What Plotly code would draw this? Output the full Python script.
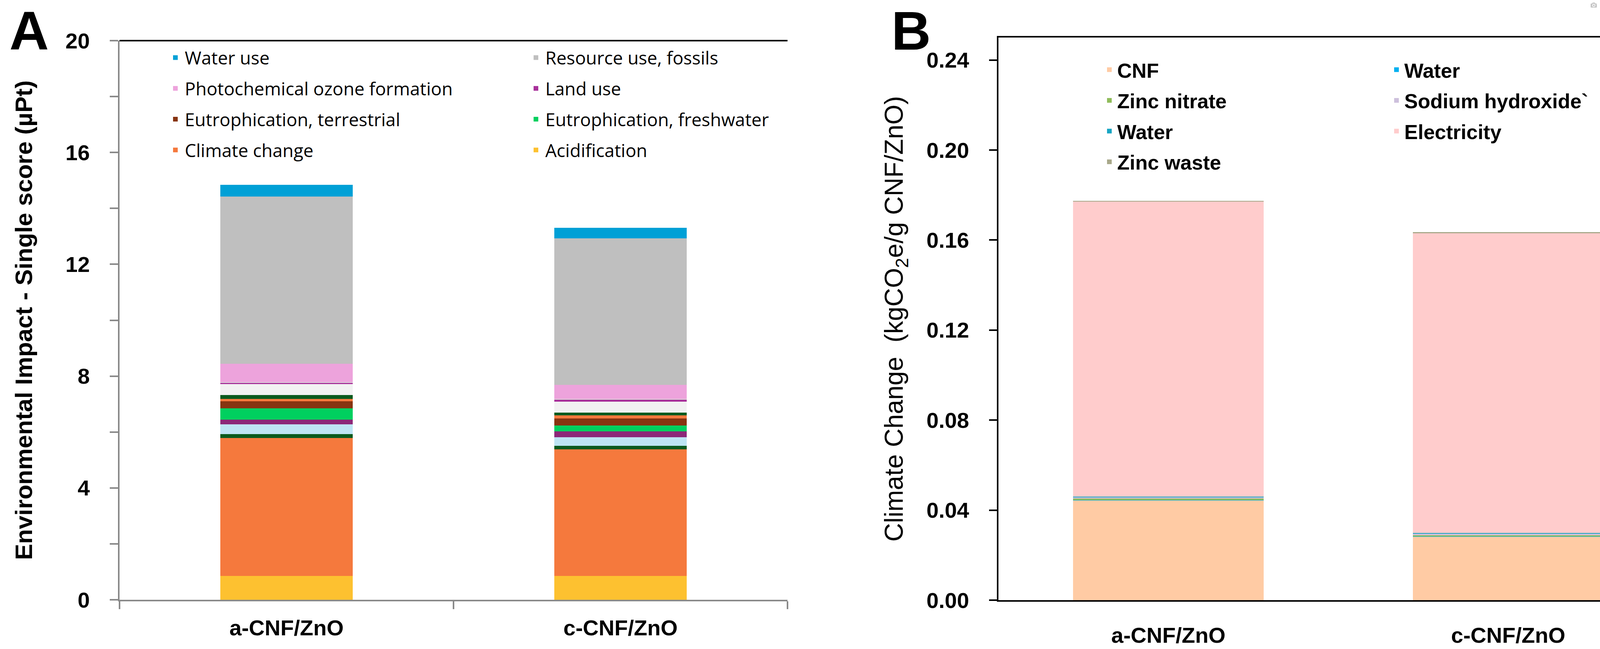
import plotly.graph_objects as go

W, H = 4334, 1661

# ---------------- Panel A data ----------------
samples = ["a-CNF/ZnO", "c-CNF/ZnO"]
a_names = ["Acidification", "Climate change", "Ecotoxicity, freshwater", "Particulate matter",
           "Eutrophication, marine", "Eutrophication, freshwater", "Eutrophication, terrestrial",
           "Human toxicity, cancer", "Human toxicity, non-cancer", "Ionising radiation",
           "Land use", "Ozone depletion", "Photochemical ozone formation",
           "Resource use, fossils", "Water use"]
a_vals_a = [0.85, 4.93, 0.15, 0.35, 0.17, 0.40, 0.25, 0.08, 0.14, 0.39, 0.05, 0.03, 0.65, 5.98, 0.42]
a_vals_c = [0.85, 4.53, 0.13, 0.31, 0.20, 0.22, 0.24, 0.11, 0.11, 0.39, 0.06, 0.03, 0.51, 5.24, 0.38]
a_colors = ["#FDC130", "#F5793D", "#0A5A1E", "#BEE5F4", "#8C2878", "#00D05F", "#873411",
            "#F5793D", "#0A5A1E", "#F2F2F2", "#A8309A", "#D9D9D9", "#EDA3DC", "#BFBFBF", "#00A0D6"]
a_legend_col1 = ["Water use", "Photochemical ozone formation", "Eutrophication, terrestrial", "Climate change"]
a_legend_col2 = ["Resource use, fossils", "Land use", "Eutrophication, freshwater", "Acidification"]

# ---------------- Panel B data ----------------
b_names = ["CNF", "Water", "Zinc nitrate", "Sodium hydroxide`", "Water", "Electricity", "Zinc waste"]
b_vals_a = [0.0443, 0.0002, 0.0007, 0.0006, 0.0002, 0.1310, 0.0004]
b_vals_c = [0.0282, 0.0001, 0.0006, 0.0007, 0.0002, 0.1333, 0.0004]
b_colors = ["#FFCBA4", "#00B0F0", "#8FBC5A", "#CDC0DC", "#17A5C3", "#FFCCCC", "#A8A88A"]
b_legend = ["legend3", "legend4", "legend3", "legend4", "legend3", "legend4", "legend3"]
b_rank = [1, 1, 2, 2, 3, 3, 4]

fig = go.Figure()

rank_a = {}
for i, n in enumerate(a_legend_col1):
    rank_a[n] = ("legend", i + 1)
for i, n in enumerate(a_legend_col2):
    rank_a[n] = ("legend2", i + 1)

for i, n in enumerate(a_names):
    show = n in rank_a
    kw = {}
    if show:
        kw = dict(legend=rank_a[n][0], legendrank=rank_a[n][1])
    fig.add_trace(go.Bar(
        x=samples, y=[a_vals_a[i], a_vals_c[i]], name=n,
        marker=dict(color=a_colors[i], line=dict(width=0)),
        width=0.397, xaxis="x", yaxis="y", showlegend=show,
        legendgroup="A%d" % i, **kw))

for i, n in enumerate(b_names):
    fig.add_trace(go.Bar(
        x=samples, y=[b_vals_a[i], b_vals_c[i]], name=n,
        marker=dict(color=b_colors[i], line=dict(width=0)),
        width=0.562, xaxis="x2", yaxis="y2", showlegend=True,
        legend=b_legend[i], legendrank=b_rank[i], legendgroup="B%d" % i))

FA = "Liberation Sans, Arial, sans-serif"
tickfont = dict(family=FA, size=56, color="black", weight="bold")

legA_font = dict(family="Open Sans, sans-serif", size=46, color="black")
legB_font = dict(family=FA, size=52, color="black", weight="bold")

def leg(x, y, font, gap, iw):
    return dict(x=x, y=y, xanchor="left", yanchor="top", orientation="v",
                font=font, bgcolor="rgba(0,0,0,0)", borderwidth=0,
                traceorder="grouped", tracegroupgap=gap, itemwidth=iw)

fig.update_layout(
    width=W, height=H, margin=dict(l=0, r=0, t=0, b=0, autoexpand=False),
    paper_bgcolor="white", plot_bgcolor="white", barmode="stack",
    legend=leg(425 / W, 1 - 111 / H, legA_font, 16, 38),
    legend2=leg(1348 / W, 1 - 111 / H, legA_font, 16, 38),
    legend3=leg(2820 / W, 1 - 138 / H, legB_font, 8, 30),
    legend4=leg(3555 / W, 1 - 138 / H, legB_font, 8, 30),
    xaxis=dict(domain=[306 / W, 2016 / W], anchor="y", range=[-0.5, 1.5],
               showline=True, linecolor="#898989",
               linewidth=4, ticks="outside", tickson="boundaries", ticklen=20, tickwidth=4,
               tickcolor="#898989", tickfont=tickfont, showgrid=False, zeroline=False,
               ticklabelstandoff=20),
    yaxis=dict(domain=[126 / H, 1557 / H], anchor="x", range=[0, 20], dtick=4, tick0=0,
               showline=True, linecolor="#898989", linewidth=4, ticks="outside", ticklen=21,
               tickwidth=4, tickcolor="#898989", tickfont=tickfont, showgrid=False,
               zeroline=False, ticklabelstandoff=40,
               minor=dict(dtick=2, ticks="outside", ticklen=21, tickwidth=4, tickcolor="#898989",
                          showgrid=False),
               title=dict(text="Environmental Impact - Single score (µPt)",
                          font=dict(family=FA, size=62, color="black", weight="bold"),
                          standoff=66)),
    xaxis2=dict(domain=[2556 / W, 4296 / W], anchor="y2", range=[-0.5, 1.5],
                showline=True, linecolor="black",
                linewidth=4, mirror=True, ticks="", tickfont=tickfont, showgrid=False,
                zeroline=False, ticklabelstandoff=38),
    yaxis2=dict(domain=[125 / H, 1565 / H], anchor="x2", range=[0, 0.25], dtick=0.04, tick0=0,
                tickformat=".2f", showline=True, linecolor="black", linewidth=4, mirror=True,
                ticks="outside", ticklen=20, tickwidth=4, tickcolor="black", tickfont=tickfont,
                showgrid=False, zeroline=False, ticklabelstandoff=40,
                title=dict(text="Climate Change  (kgCO<sub>2</sub>e/g CNF/ZnO)",
                           font=dict(family=FA, size=66, color="black"), standoff=40)),
    shapes=[dict(type="line", xref="x domain", yref="y domain", x0=0, x1=1, y0=1, y1=1,
                 line=dict(color="black", width=4))],
    annotations=[
        dict(text="<b>A</b>", x=22 / W, y=1 - 159 / H, xref="paper", yref="paper",
             xanchor="left", yanchor="bottom", showarrow=False,
             font=dict(family=FA, size=140, color="black")),
        dict(text="<b>B</b>", x=2280 / W, y=1 - 159 / H, xref="paper", yref="paper",
             xanchor="left", yanchor="bottom", showarrow=False,
             font=dict(family=FA, size=140, color="black")),
    ],
)

fig.write_html("out.html", post_script="document.body.style.margin='0';")
